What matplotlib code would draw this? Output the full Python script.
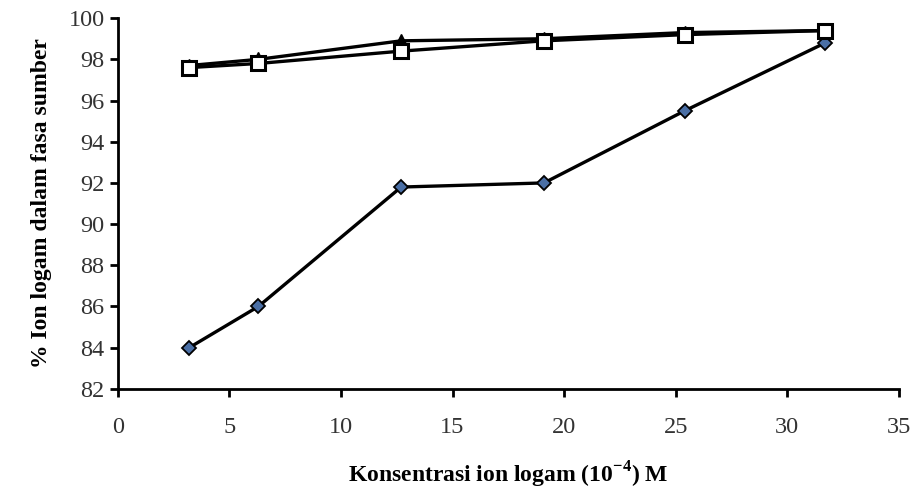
import matplotlib
matplotlib.use("Agg")
import matplotlib.pyplot as plt

x = [3.2, 6.3, 12.7, 19.1, 25.4, 31.7]
s_triangle = [97.7, 98.0, 98.9, 99.0, 99.3, 99.4]
s_square = [97.6, 97.8, 98.4, 98.9, 99.2, 99.4]
s_diamond = [84.0, 86.0, 91.8, 92.0, 95.5, 98.8]

xticks = [0, 5, 10, 15, 20, 25, 30, 35]
yticks = [82, 84, 86, 88, 90, 92, 94, 96, 98, 100]

plt.rcParams['font.family'] = ['Liberation Serif', 'DejaVu Serif']

fig = plt.figure(figsize=(9.2, 4.91), dpi=100)
ax = fig.add_axes([0.128, 0.208, 0.849, 0.755])

ax.plot(x, s_triangle, color='black', lw=2.4, marker='^', ms=10,
        mfc='black', mec='black', zorder=3)
ax.plot(x, s_square, color='black', lw=2.4, marker='s', ms=10,
        mfc='white', mec='black', mew=2.2, zorder=4)
ax.plot(x, s_diamond, color='black', lw=2.4, marker='D', ms=7.5,
        mfc='#4a6fa5', mec='black', mew=1.3, zorder=3)

ax.set_xlim(0, 35)
ax.set_ylim(82, 100)
ax.set_xticks(xticks)
ax.set_yticks(yticks)
for s in ['top', 'right']:
    ax.spines[s].set_visible(False)
for s in ['left', 'bottom']:
    ax.spines[s].set_linewidth(2)
ax.tick_params(axis='both', direction='out', width=2, length=6,
               labelsize=17.5, labelcolor='#333333')
ax.tick_params(axis='x', pad=14)

ax.set_xlabel(r'Konsentrasi ion logam (10$^{\mathregular{-4}}$) M', fontsize=17,
              fontweight='bold', labelpad=16)
ax.set_ylabel('% Ion logam dalam fasa sumber', fontsize=17,
              fontweight='bold', labelpad=12)

fig.savefig('out.png', dpi=100)
